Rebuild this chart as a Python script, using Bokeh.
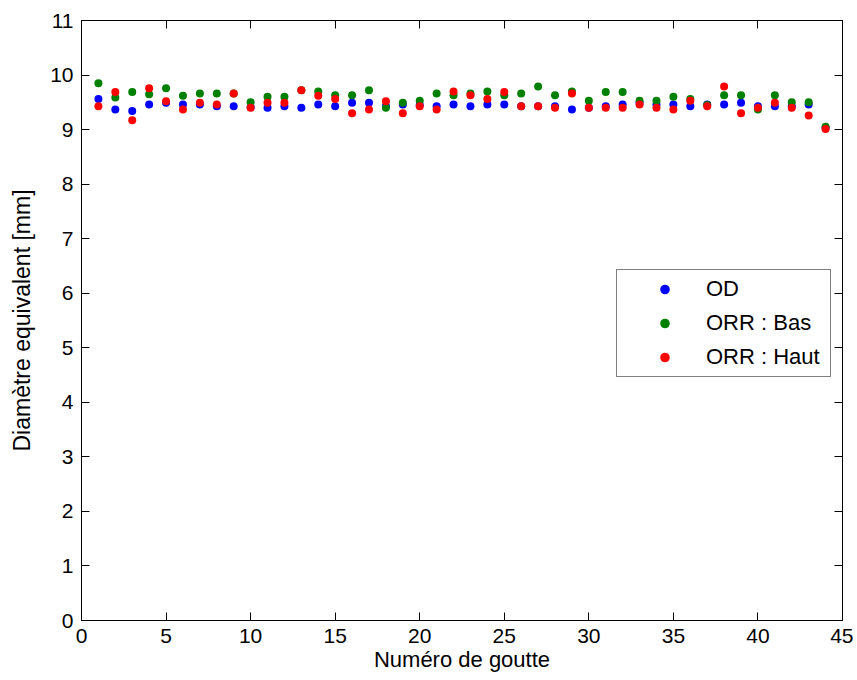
from bokeh.plotting import figure
from bokeh.models import LinearAxis, Legend, LegendItem, FixedTicker, Range1d, ColumnDataSource
from bokeh.embed import file_html
from bokeh.resources import INLINE

# ---- data ----
goutte = [1, 2, 3, 4, 5, 6, 7, 8, 9, 10, 11, 12, 13, 14, 15, 16, 17, 18, 19, 20, 21, 22,
          23, 24, 25, 26, 27, 28, 29, 30, 31, 32, 33, 34, 35, 36, 37, 38, 39, 40, 41, 42, 43, 44]

od = [9.56, 9.37, 9.34, 9.46, 9.49, 9.46, 9.46, 9.43, 9.43, 9.41, 9.40, 9.43, 9.40, 9.46,
      9.43, 9.49, 9.49, 9.43, 9.46, 9.45, 9.43, 9.46, 9.43, 9.46, 9.46, 9.43, 9.43, 9.43,
      9.37, 9.40, 9.43, 9.46, 9.49, 9.46, 9.46, 9.43, 9.46, 9.46, 9.49, 9.43, 9.43, 9.43,
      9.46, 9.03]

orr_bas = [9.85, 9.59, 9.69, 9.65, 9.76, 9.62, 9.66, 9.66, 9.66, 9.50, 9.60, 9.60, 9.72, 9.70,
           9.63, 9.63, 9.72, 9.40, 9.49, 9.53, 9.66, 9.63, 9.66, 9.70, 9.63, 9.66, 9.79, 9.63,
           9.70, 9.53, 9.69, 9.69, 9.53, 9.53, 9.60, 9.56, 9.45, 9.63, 9.63, 9.37, 9.63, 9.50,
           9.50, 9.05]

orr_haut = [9.43, 9.69, 9.17, 9.76, 9.52, 9.37, 9.49, 9.46, 9.66, 9.40, 9.49, 9.49, 9.72, 9.62,
            9.56, 9.30, 9.37, 9.52, 9.30, 9.43, 9.37, 9.70, 9.63, 9.56, 9.69, 9.43, 9.43, 9.40,
            9.66, 9.40, 9.40, 9.40, 9.46, 9.40, 9.37, 9.53, 9.43, 9.79, 9.30, 9.40, 9.49, 9.40,
            9.26, 9.01]

series_names = ["OD", "ORR : Bas", "ORR : Haut"]
series_colors = ["#0000FF", "#008000", "#FF0000"]

x_ticks = [0, 5, 10, 15, 20, 25, 30, 35, 40, 45]
y_ticks = [0, 1, 2, 3, 4, 5, 6, 7, 8, 9, 10, 11]

FONT = "Liberation Sans"

p = figure(width=853, height=678, x_range=Range1d(0, 45), y_range=Range1d(0, 11),
           output_backend="svg", toolbar_location=None,
           min_border_left=81, min_border_right=11, min_border_top=20, min_border_bottom=58)
p.xgrid.visible = False
p.ygrid.visible = False
p.outline_line_color = "black"
p.outline_line_width = 1
p.background_fill_color = "white"
p.border_fill_color = "white"

def style_axis(ax, ticks, labels=True):
    ax.ticker = FixedTicker(ticks=ticks)
    ax.axis_line_color = "black"
    ax.major_tick_line_color = "black"
    ax.major_tick_in = 8
    ax.major_tick_out = 0
    ax.minor_tick_line_color = None
    ax.major_label_text_font = FONT
    ax.major_label_text_color = "black"
    ax.major_label_text_font_size = "21px"
    if not labels:
        ax.major_label_overrides = {t: "" for t in ticks}
        ax.major_label_standoff = 0

xa = p.xaxis[0]
ya = p.yaxis[0]
style_axis(xa, x_ticks)
style_axis(ya, y_ticks)
xa.major_label_standoff = 8
xa.axis_label = "Numéro de goutte"
xa.axis_label_text_font = FONT
xa.axis_label_text_font_size = "22px"
xa.axis_label_text_font_style = "normal"
xa.axis_label_text_color = "black"
xa.axis_label_standoff = 1
ya.major_label_standoff = 8
ya.axis_label = "Diamètre equivalent [mm]"
ya.axis_label_text_font = FONT
ya.axis_label_text_font_size = "23px"
ya.axis_label_text_font_style = "normal"
ya.axis_label_text_color = "black"
ya.axis_label_standoff = 12

top_ax = LinearAxis()
style_axis(top_ax, x_ticks, labels=False)
p.add_layout(top_ax, "above")
right_ax = LinearAxis()
style_axis(right_ax, y_ticks, labels=False)
p.add_layout(right_ax, "right")

renderers = []
for vals, col in zip([od, orr_bas, orr_haut], series_colors):
    src = ColumnDataSource(dict(x=goutte, y=vals))
    r = p.scatter("x", "y", source=src, size=8, marker="circle",
                  fill_color=col, line_color=col, line_width=0)
    renderers.append(r)

legend = Legend(items=[LegendItem(label=n, renderers=[r]) for n, r in zip(series_names, renderers)],
                location=(535, 243))
legend.label_text_font = FONT
legend.label_text_font_size = "22px"
legend.label_text_color = "black"
legend.padding = 6
legend.spacing = 8
legend.glyph_width = 83
legend.glyph_height = 24
legend.label_height = 24
legend.label_standoff = 0
legend.label_width = 118
legend.border_line_color = "black"
legend.border_line_width = 1
legend.background_fill_color = "white"
legend.background_fill_alpha = 1
legend.margin = 0
p.add_layout(legend, "center")

open("out.html", "w").write(file_html(p, INLINE))
